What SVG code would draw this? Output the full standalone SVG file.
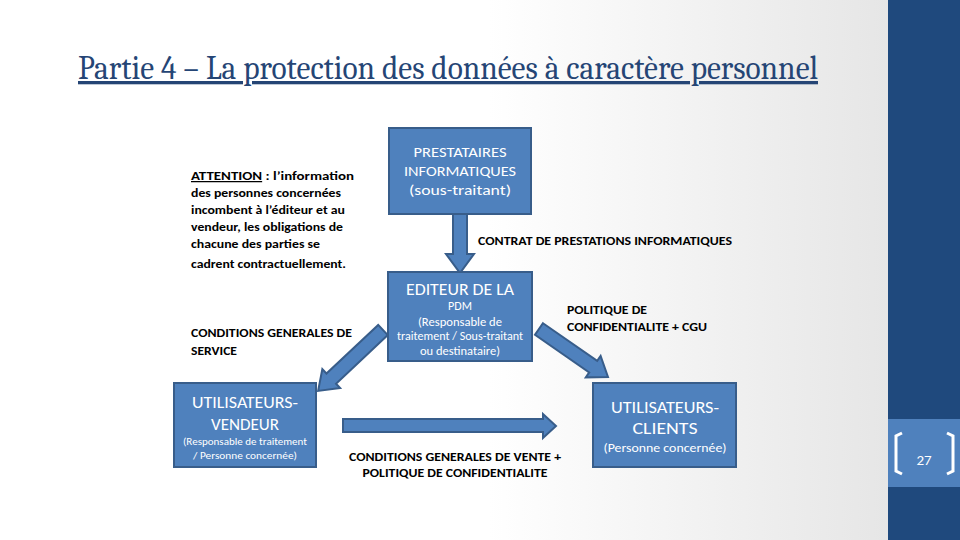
<svg xmlns="http://www.w3.org/2000/svg" width="960" height="540" viewBox="0 0 960 540">
<defs>
<linearGradient id="bg" x1="0" y1="0" x2="888" y2="0" gradientUnits="userSpaceOnUse">
<stop offset="0" stop-color="#ffffff"/>
<stop offset="0.55" stop-color="#ffffff"/>
<stop offset="1" stop-color="#e6e6e6"/>
</linearGradient>
<style>
.box{fill:#4f81bd;stroke:#385d8a;stroke-width:2}
.arr{fill:#4f81bd;stroke:#385d8a;stroke-width:2;stroke-linejoin:miter}
.bt{fill:#ffffff;font-family:Carlito,"Liberation Sans",Arial,sans-serif;text-anchor:middle}
.lb{fill:#000000;font-family:Carlito,"Liberation Sans",Arial,sans-serif;font-weight:bold;font-size:12.5px}
.title{fill:#254575;font-family:Caladea,"Liberation Serif",serif;font-size:33px}
</style>
</defs>
<rect x="0" y="0" width="960" height="540" fill="url(#bg)"/>
<rect x="888" y="0" width="72" height="540" fill="#1f497d"/>
<rect x="888" y="419" width="72" height="68" fill="#4f81bd"/>
<path d="M902,433 L896,436 L896,471 L902,474" fill="none" stroke="#ffffff" stroke-width="3"/>
<path d="M947,433 L953,436 L953,471 L947,474" fill="none" stroke="#ffffff" stroke-width="3"/>
<text x="924" y="465" fill="#ffffff" font-family="Carlito,'Liberation Sans',Arial,sans-serif" font-size="15" text-anchor="middle">27</text>

<text class="title" x="78" y="79" textLength="740" lengthAdjust="spacingAndGlyphs" text-decoration="underline">Partie 4 – La protection des données à caractère personnel</text>

<g id="connectors">
<polygon class="arr" points="453,214 467,214 467,254 474,254 460,273 446,254 453,254"/>
<polygon class="arr" transform="translate(383,330) rotate(136.8)" points="0,-7 71,-7 71,-13 89,0 71,13 71,7 0,7"/>
<polygon class="arr" transform="translate(539,329) rotate(34.8)" points="0,-7 66,-7 66,-13 84,0 66,13 66,7 0,7"/>
<polygon class="arr" points="343,419 543,419 543,414 556,426 543,438 543,432 343,432"/>
</g>

<g id="attention">
<text class="lb" x="191" y="180" textLength="163" lengthAdjust="spacingAndGlyphs"><tspan text-decoration="underline">ATTENTION</tspan> : l’information</text>
<text class="lb" x="191" y="197" textLength="150" lengthAdjust="spacingAndGlyphs">des personnes concernées</text>
<text class="lb" x="191" y="214" textLength="154" lengthAdjust="spacingAndGlyphs">incombent à l’éditeur et au</text>
<text class="lb" x="191" y="231" textLength="152" lengthAdjust="spacingAndGlyphs">vendeur, les obligations de</text>
<text class="lb" x="191" y="248" textLength="129" lengthAdjust="spacingAndGlyphs">chacune des parties se</text>
<text class="lb" x="191" y="268" textLength="155" lengthAdjust="spacingAndGlyphs">cadrent contractuellement.</text>
</g>

<g id="prestataires">
<rect class="box" x="389" y="128" width="142" height="86"/>
<text class="bt" x="460" y="157" font-size="14.5" textLength="93" lengthAdjust="spacingAndGlyphs">PRESTATAIRES</text>
<text class="bt" x="460" y="176" font-size="14.5" textLength="112" lengthAdjust="spacingAndGlyphs">INFORMATIQUES</text>
<text class="bt" x="460" y="195" font-size="14.5" textLength="102" lengthAdjust="spacingAndGlyphs">(sous-traitant)</text>
</g>

<g id="label-contrat">
<text class="lb" x="478" y="245" textLength="254" lengthAdjust="spacingAndGlyphs">CONTRAT DE PRESTATIONS INFORMATIQUES</text>
</g>

<g id="editeur">
<rect class="box" x="388" y="272" width="144" height="89"/>
<text class="bt" x="460" y="295" font-size="16.5" textLength="108" lengthAdjust="spacingAndGlyphs">EDITEUR DE LA</text>
<text class="bt" x="460" y="310" font-size="12">PDM</text>
<text class="bt" x="460" y="326" font-size="12" textLength="84" lengthAdjust="spacingAndGlyphs">(Responsable de</text>
<text class="bt" x="460" y="340" font-size="12" textLength="126" lengthAdjust="spacingAndGlyphs">traitement / Sous-traitant</text>
<text class="bt" x="460" y="355" font-size="12" textLength="80" lengthAdjust="spacingAndGlyphs">ou destinataire)</text>
</g>

<g id="label-cgs">
<text class="lb" x="191" y="337" textLength="161" lengthAdjust="spacingAndGlyphs">CONDITIONS GENERALES DE</text>
<text class="lb" x="191" y="355" textLength="46" lengthAdjust="spacingAndGlyphs">SERVICE</text>
</g>

<g id="label-cgu">
<text class="lb" x="567" y="314" textLength="80" lengthAdjust="spacingAndGlyphs">POLITIQUE DE</text>
<text class="lb" x="567" y="331" textLength="140" lengthAdjust="spacingAndGlyphs">CONFIDENTIALITE + CGU</text>
</g>

<g id="vendeur">
<rect class="box" x="174" y="383" width="142" height="84"/>
<text class="bt" x="245" y="408" font-size="17" textLength="106" lengthAdjust="spacingAndGlyphs">UTILISATEURS-</text>
<text class="bt" x="245" y="430" font-size="17" textLength="68" lengthAdjust="spacingAndGlyphs">VENDEUR</text>
<text class="bt" x="245" y="445" font-size="11" textLength="124" lengthAdjust="spacingAndGlyphs">(Responsable de traitement</text>
<text class="bt" x="245" y="459" font-size="11" textLength="104" lengthAdjust="spacingAndGlyphs">/ Personne concernée)</text>
</g>

<g id="label-cgv">
<text class="lb" x="455" y="461" text-anchor="middle" textLength="212" lengthAdjust="spacingAndGlyphs">CONDITIONS GENERALES DE VENTE +</text>
<text class="lb" x="455" y="477" text-anchor="middle" textLength="185" lengthAdjust="spacingAndGlyphs">POLITIQUE DE CONFIDENTIALITE</text>
</g>

<g id="clients">
<rect class="box" x="593" y="383" width="143" height="84"/>
<text class="bt" x="665" y="413" font-size="16.5" textLength="108" lengthAdjust="spacingAndGlyphs">UTILISATEURS-</text>
<text class="bt" x="665" y="434" font-size="16.5" textLength="65" lengthAdjust="spacingAndGlyphs">CLIENTS</text>
<text class="bt" x="665" y="452" font-size="13" textLength="123" lengthAdjust="spacingAndGlyphs">(Personne concernée)</text>
</g>
</svg>
